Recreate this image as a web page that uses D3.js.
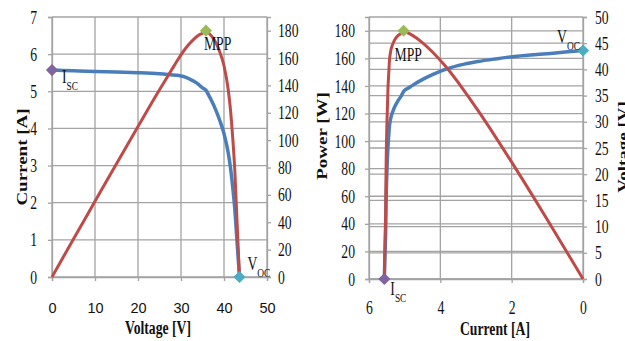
<!DOCTYPE html>
<html>
<head>
<meta charset="utf-8">
<script src="https://cdn.jsdelivr.net/npm/d3@7"></script>
<style>
  body { margin: 0; background: #fff; }
  svg { display: block; }
</style>
</head>
<body>
<svg id="chart" width="625" height="341"></svg>
<script>
// I-V points of the module
const voltage = [0, 5, 10, 15, 20, 25, 28, 29, 30, 31, 32, 33, 34, 35, 35.8, 36.5, 37, 38, 39, 40, 41, 41.5, 42, 42.5, 43, 43.3, 43.6];
const current = [5.57, 5.55, 5.53, 5.52, 5.50, 5.47, 5.44, 5.43, 5.41, 5.38, 5.33, 5.27, 5.19, 5.09, 5.03, 4.88, 4.77, 4.52, 4.22, 3.86, 3.33, 2.95, 2.45, 1.85, 1.0, 0.5, 0];
const power = [0, 27.8, 55.3, 82.8, 110, 136.8, 152.3, 157.5, 162.3, 166.8, 170.6, 173.9, 176.5, 178.2, 180, 178.1, 176.5, 171.8, 164.6, 154.4, 136.5, 122.4, 102.9, 78.6, 43, 21.6, 0];

// special points: index into the arrays above
const markerNames = ["SC", "MPP", "OC"];
const markerIndex = [0, 14, 26];
const markerColors = ["#8064a2", "#9bbb59", "#4bacc6"];

// ticks
const voltTicksL = [0, 10, 20, 30, 40, 50];
const currTicksL = [0, 1, 2, 3, 4, 5, 6, 7];
const powerTicks = [0, 20, 40, 60, 80, 100, 120, 140, 160, 180];
const currTicksR = [6, 4, 2, 0];
const voltTicksR = [0, 5, 10, 15, 20, 25, 30, 35, 40, 45, 50];

const serif = "'Liberation Serif', 'Times New Roman', serif";
const sans = "'Liberation Sans', Arial, sans-serif";
const sx = 0.72; // picture is squeezed horizontally
const gridColor = "#a3a3a3";
const blue = "#4a7ebb", red = "#be4b48";

const svg = d3.select("#chart");
const pts = voltage.map((v, i) => ({v: v, i: current[i], p: power[i]}));

function styleAxis(g) {
  g.select(".domain").attr("stroke", gridColor).attr("stroke-width", 1.3);
  g.selectAll(".tick line").attr("stroke", gridColor).attr("stroke-width", 1.3);
  g.selectAll("text").attr("font-family", serif).attr("font-size", 19).attr("fill", "#111");
}
function squeeze(g, xoff) {
  g.selectAll("text").attr("transform", `scale(${sx},1)`).attr("x", xoff / sx);
}
function label(x, y, main, sub) {
  const t = svg.append("text")
    .attr("transform", `translate(${x},${y}) scale(${sx},1)`)
    .attr("font-family", serif).attr("font-size", 19).attr("fill", "#111")
    .text(main);
  if (sub) t.append("tspan").attr("font-size", 13).attr("dy", 7).text(sub);
}
function title(x, y, txt, rot) {
  svg.append("text")
    .attr("transform", rot ? `translate(${x},${y}) rotate(-90) scale(1,${sx})` : `translate(${x},${y}) scale(${sx},1)`)
    .attr("text-anchor", "middle")
    .attr("font-family", serif).attr("font-size", 19).attr("font-weight", "bold").attr("fill", "#111")
    .text(txt);
}
function diamond(x, y, color) {
  svg.append("path")
    .attr("d", d3.symbol(d3.symbolSquare, 74)())
    .attr("transform", `translate(${x},${y}) rotate(45)`)
    .attr("fill", color);
}

// ---------- left panel: I-V and P-V ----------
const xL = d3.scaleLinear().domain([0, 50]).range([52, 267]);
const yI = d3.scaleLinear().domain([0, 7]).range([277, 17]);
const yPL = d3.scaleLinear().domain([0, 190]).range([277, 17]);

const gridL = svg.append("g").attr("stroke", gridColor).attr("stroke-width", 1.3);
gridL.selectAll(".v").data(voltTicksL).join("line")
  .attr("x1", d => xL(d)).attr("x2", d => xL(d)).attr("y1", yI(0)).attr("y2", yI(7));
gridL.selectAll(".h").data(currTicksL).join("line")
  .attr("x1", xL(0)).attr("x2", xL(50)).attr("y1", d => yI(d)).attr("y2", d => yI(d));

svg.append("g").attr("transform", `translate(${xL(0)},0)`)
  .call(d3.axisLeft(yI).tickValues(currTicksL).tickSize(4).tickFormat(d3.format("d")))
  .call(styleAxis).call(g => squeeze(g, -15));

svg.append("g").attr("transform", `translate(${xL(50)},0)`)
  .call(d3.axisRight(yPL).tickValues(powerTicks).tickSize(4).tickFormat(d3.format("d")))
  .call(styleAxis).call(g => squeeze(g, 11))
  .call(g => g.selectAll("text").attr("text-anchor", "start"));

svg.append("g").attr("transform", `translate(0,${yI(0)})`)
  .call(d3.axisBottom(xL).tickValues(voltTicksL).tickSize(4).tickFormat(d3.format("d")))
  .call(styleAxis)
  .call(g => g.selectAll("text").attr("font-family", sans).attr("font-size", 14.5).attr("y", 36).attr("dy", 0));

svg.append("path").datum(pts)
  .attr("fill", "none").attr("stroke", blue).attr("stroke-width", 3.5)
  .attr("d", d3.line().curve(d3.curveMonotoneX).x(d => xL(d.v)).y(d => yI(d.i)));
svg.append("path").datum(pts)
  .attr("fill", "none").attr("stroke", red).attr("stroke-width", 3)
  .attr("d", d3.line().curve(d3.curveMonotoneX).x(d => xL(d.v)).y(d => yPL(d.p)));

// markers: Isc and Voc on the I-V curve, MPP on the power curve
const isc = pts[markerIndex[0]], mpp = pts[markerIndex[1]], voc = pts[markerIndex[2]];
diamond(xL(isc.v), yI(isc.i), markerColors[0]);
diamond(xL(mpp.v), yPL(mpp.p), markerColors[1]);
diamond(xL(voc.v), yI(voc.i), markerColors[2]);
label(xL(isc.v) + 10, yI(isc.i) + 13, "I", markerNames[0]);
label(xL(mpp.v) - 2, yPL(mpp.p) + 19, markerNames[1]);
label(xL(voc.v) + 8, yI(voc.i) - 7, "V", markerNames[2]);

title(27, 157, "Current [A]", true);
title(158, 334, "Voltage [V]", false);

// ---------- right panel: P-I and V-I ----------
const xR = d3.scaleLinear().domain([6, 0]).range([369, 583]);
const yPR = d3.scaleLinear().domain([0, 190]).range([279, 17]);
const yVR = d3.scaleLinear().domain([0, 50]).range([279, 17]);

const gridR = svg.append("g").attr("stroke", gridColor).attr("stroke-width", 1.3);
gridR.selectAll(".v").data(currTicksR).join("line")
  .attr("x1", d => xR(d)).attr("x2", d => xR(d)).attr("y1", yVR(0)).attr("y2", yVR(50));
gridR.selectAll(".hp").data(powerTicks).join("line")
  .attr("x1", xR(6)).attr("x2", xR(0)).attr("y1", d => yPR(d)).attr("y2", d => yPR(d));
gridR.selectAll(".hv").data(voltTicksR).join("line")
  .attr("x1", xR(6)).attr("x2", xR(0)).attr("y1", d => yVR(d)).attr("y2", d => yVR(d));

svg.append("g").attr("transform", `translate(${xR(6)},0)`)
  .call(d3.axisLeft(yPR).tickValues(powerTicks).tickSize(4).tickFormat(d3.format("d")))
  .call(styleAxis).call(g => squeeze(g, -14));

svg.append("g").attr("transform", `translate(${xR(0)},0)`)
  .call(d3.axisRight(yVR).tickValues(voltTicksR).tickSize(4).tickFormat(d3.format("d")))
  .call(styleAxis).call(g => squeeze(g, 12))
  .call(g => g.selectAll("text").attr("text-anchor", "start"));

svg.append("g").attr("transform", `translate(0,${yPR(0)})`)
  .call(d3.axisBottom(xR).tickValues(currTicksR).tickSize(4).tickFormat(d3.format("d")))
  .call(styleAxis)
  .call(g => g.selectAll("text").attr("transform", `scale(${sx},1)`).attr("y", 35).attr("dy", 0));

svg.append("path").datum(pts)
  .attr("fill", "none").attr("stroke", blue).attr("stroke-width", 3.5)
  .attr("d", d3.line().curve(d3.curveMonotoneX).x(d => xR(d.i)).y(d => yVR(d.v)));
svg.append("path").datum(pts)
  .attr("fill", "none").attr("stroke", red).attr("stroke-width", 3)
  .attr("d", d3.line().curve(d3.curveMonotoneX).x(d => xR(d.i)).y(d => yPR(d.p)));

diamond(xR(isc.i), yVR(isc.v), markerColors[0]);
diamond(xR(mpp.i), yPR(mpp.p), markerColors[1]);
diamond(xR(voc.i), yVR(voc.v), markerColors[2]);
label(xR(isc.i) + 6, yVR(isc.v) + 16, "I", markerNames[0]);
label(xR(mpp.i) - 9, yPR(mpp.p) + 30, markerNames[1]);
label(xR(voc.i) - 26, yVR(voc.v) - 8, "V", markerNames[2]);

title(327, 136, "Power [W]", true);
title(628, 147, "Voltage [V]", true);
title(495, 335, "Current [A]", false);
</script>
</body>
</html>
